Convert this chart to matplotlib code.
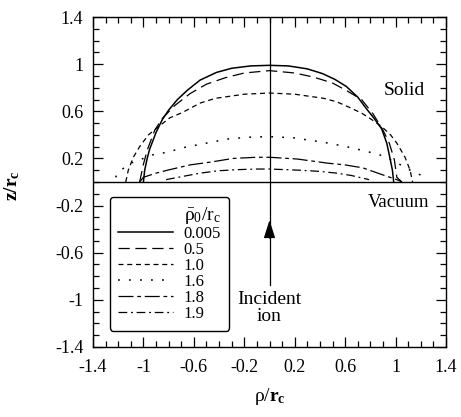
import numpy as np
import matplotlib
matplotlib.use('Agg')
import matplotlib.pyplot as plt
from matplotlib.ticker import MultipleLocator

plt.rcParams['font.family'] = ['Liberation Serif', 'DejaVu Serif']
plt.rcParams['mathtext.fontset'] = 'custom'
plt.rcParams['mathtext.rm'] = 'Liberation Serif'
plt.rcParams['mathtext.it'] = 'Liberation Serif:italic'
plt.rcParams['mathtext.bf'] = 'Liberation Serif:bold'

# Crater profiles z/rc vs rho/rc
x_0005 = [-1.0, -0.99, -0.97, -0.95, -0.9, -0.85, -0.8, -0.73, -0.65, -0.55, -0.42, -0.3, -0.15, 0.0,
          0.15, 0.3, 0.42, 0.52, 0.61, 0.7, 0.77, 0.83, 0.89, 0.93, 0.956, 0.975, 0.985]
z_0005 = [0.0, 0.1, 0.2, 0.28, 0.42, 0.53, 0.61, 0.70, 0.78, 0.865, 0.93, 0.965, 0.985, 0.99,
          0.985, 0.96, 0.92, 0.87, 0.81, 0.72, 0.62, 0.54, 0.45, 0.33, 0.2, 0.1, 0.0]

x_05 = [-1.03, -1.0, -0.97, -0.91, -0.85, -0.75, -0.63, -0.5, -0.35, -0.2, 0.0, 0.2, 0.35, 0.5,
        0.62, 0.73, 0.82, 0.9, 0.95, 0.99, 1.01, 1.05]
z_05 = [0.0, 0.15, 0.27, 0.44, 0.54, 0.65, 0.75, 0.83, 0.885, 0.925, 0.945, 0.925, 0.89, 0.84,
        0.77, 0.70, 0.58, 0.44, 0.33, 0.19, 0.04, 0.0]

x_10 = [-1.14, -1.12, -1.08, -1.03, -0.96, -0.88, -0.79, -0.69, -0.55, -0.43, -0.2, 0.0, 0.2, 0.43,
        0.535, 0.63, 0.73, 0.81, 0.89, 0.96, 1.01, 1.075, 1.115, 1.135]
z_10 = [0.0, 0.10, 0.21, 0.30, 0.40, 0.47, 0.545, 0.59, 0.67, 0.71, 0.745, 0.755, 0.745, 0.71,
        0.68, 0.635, 0.585, 0.53, 0.47, 0.40, 0.33, 0.21, 0.10, 0.0]

x_16 = [-1.22, -1.2, -1.1, -1.0, -0.93, -0.8, -0.69, -0.5, -0.33, -0.17, 0.0, 0.19, 0.44, 0.61,
        0.77, 0.875, 0.96, 1.05, 1.14, 1.22]
z_16 = [0.04, 0.085, 0.16, 0.20, 0.23, 0.255, 0.29, 0.33, 0.365, 0.38, 0.385, 0.375, 0.335, 0.30,
        0.26, 0.23, 0.19, 0.14, 0.085, 0.05]

x_18 = [-1.03, -1.0, -0.9, -0.81, -0.63, -0.46, -0.29, -0.1, 0.0, 0.22, 0.46, 0.6, 0.74, 0.9, 1.01, 1.05]
z_18 = [0.0, 0.04, 0.075, 0.10, 0.145, 0.17, 0.20, 0.21, 0.21, 0.195, 0.16, 0.145, 0.12, 0.06, 0.02, 0.0]

x_19 = [-0.82, -0.7, -0.55, -0.41, -0.25, -0.1, 0.0, 0.24, 0.4, 0.535, 0.65, 0.79]
z_19 = [0.02, 0.045, 0.075, 0.095, 0.105, 0.11, 0.11, 0.10, 0.09, 0.075, 0.055, 0.02]

labels = ['0.005', '0.5', '1.0', '1.6', '1.8', '1.9']
ticks = [-1.4, -1.0, -0.6, -0.2, 0.2, 0.6, 1.0, 1.4]
tick_labels = ['-1.4', '-1', '-0.6', '-0.2', '0.2', '0.6', '1', '1.4']

fig = plt.figure(figsize=(4.61, 4.17), dpi=100)
ax = fig.add_axes([0.2017, 0.1679, 0.7658, 0.7913])

styles = [
    dict(ls='-', lw=1.1),
    dict(ls=(0, (9, 4.5)), lw=0.9),
    dict(ls=(0, (4, 3)), lw=0.9),
    dict(ls=(0, (1.2, 6)), lw=1.1),
    dict(ls=(0, (12, 3, 3, 3)), lw=0.9),
    dict(ls=(0, (7, 3, 1.5, 3)), lw=0.9),
]
curves = [(x_0005, z_0005), (x_05, z_05), (x_10, z_10), (x_16, z_16), (x_18, z_18), (x_19, z_19)]
for (xs, zs), st, lab in zip(curves, styles, labels):
    ax.plot(xs, zs, color='black', label=lab, **st)

# surface and ion path
ax.axhline(0, color='black', lw=1.0)
ax.plot([0, 0], [-0.87, 1.4], color='black', lw=0.9)
ax.annotate('', xy=(0, -0.3), xytext=(0, -0.5),
            arrowprops=dict(arrowstyle='-|>,head_length=1.1,head_width=0.35',
                            color='black', lw=0.9))

ax.text(1.07, 0.78, 'Solid', fontsize=14, ha='center', va='center')
ax.text(1.27, -0.17, 'Vacuum', fontsize=13.5, ha='right', va='center')
ax.text(0, -1.07, 'Incident\nion', fontsize=14, ha='center', va='center', linespacing=0.95)

ax.set_xlim(-1.4, 1.4)
ax.set_ylim(-1.4, 1.4)
ax.set_xticks(ticks)
ax.set_xticklabels(tick_labels)
ax.set_yticks(ticks)
ax.set_yticklabels(tick_labels)
ax.xaxis.set_minor_locator(MultipleLocator(0.1))
ax.yaxis.set_minor_locator(MultipleLocator(0.1))
ax.tick_params(which='both', direction='in', top=True, right=True, labelsize=13)
ax.tick_params(which='major', length=7, width=0.9)
ax.tick_params(which='minor', length=4, width=0.9)
ax.tick_params(axis='x', pad=9)
ax.tick_params(axis='y', pad=7)
for sp in ax.spines.values():
    sp.set_linewidth(1.0)

ax.set_xlabel('ρ/$\\mathbf{r}_\\mathbf{c}$', fontsize=14)
ax.set_ylabel('$\\mathbf{z/r}_\\mathbf{c}$', fontsize=14)
ax.xaxis.set_label_coords(0.5, -0.118)
ax.yaxis.set_label_coords(-0.201, 0.49)

leg = ax.legend(loc='upper left', bbox_to_anchor=(-1.265, -0.127), bbox_transform=ax.transData,
                borderaxespad=0, fontsize=12, handlelength=3.3, labelspacing=0.0,
                title='$\\bar{\\mathrm{\\rho}}_0/\\mathrm{r}_\\mathrm{c}$', title_fontsize=14,
                alignment='right', fancybox=True, edgecolor='black', framealpha=1,
                handletextpad=0.6, borderpad=0.5)
leg.get_frame().set_linewidth(1.0)

fig.savefig('out.png', dpi=100)
